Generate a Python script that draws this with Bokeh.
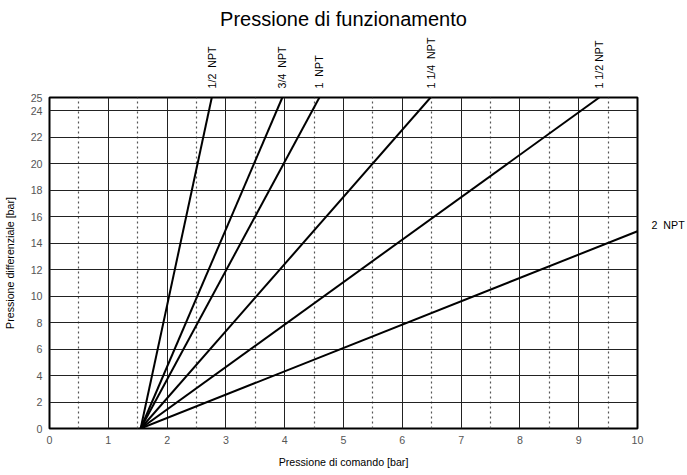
import math
from bokeh.plotting import figure
from bokeh.models import FixedTicker, LinearAxis
from bokeh.embed import file_html
from bokeh.resources import INLINE

# Data
series_names = ["1/2  NPT", "3/4  NPT", "1  NPT", "1 1/4  NPT", "1 1/2 NPT", "2  NPT"]
start_x = 1.55
start_y = 0.0
end_x = [2.76, 3.96, 4.59, 6.48, 9.35, 10.0]
end_y = [25.0, 25.0, 25.0, 25.0, 25.0, 14.9]
label_y = [25.0, 25.0, 25.0, 25.0, 25.0, 15.4]
x_ticks = [0, 1, 2, 3, 4, 5, 6, 7, 8, 9, 10]
x_minor = [0.5, 1.5, 2.5, 3.5, 4.5, 5.5, 6.5, 7.5, 8.5, 9.5]
y_ticks = [0, 2, 4, 6, 8, 10, 12, 14, 16, 18, 20, 22, 24, 25]
title_text = "Pressione di funzionamento"
x_label = "Pressione di comando [bar]"
y_label = "Pressione differenziale [bar]"

FONT = "Liberation Sans"


def keep_spaces(s):
    # SVG collapses runs of spaces; keep the double spaces visible
    return s.replace("  ", " \u00a0")


p = figure(frame_width=588, frame_height=331, x_range=(0, 10), y_range=(0, 25),
           output_backend="svg", toolbar_location=None,
           min_border_left=42, min_border_right=41, min_border_top=10, min_border_bottom=10)

p.title.text = title_text
p.title.align = "center"
p.title.text_font = FONT
p.title.text_font_size = "15pt"
p.title.text_font_style = "normal"
p.title.text_color = "black"
p.title.standoff = 10

p.outline_line_color = "black"
p.outline_line_width = 2

xt = FixedTicker(ticks=x_ticks, minor_ticks=x_minor)
yt = FixedTicker(ticks=y_ticks)
bottom_axis = p.below[0]
left_axis = p.left[0]
bottom_axis.ticker = xt
left_axis.ticker = yt
p.xgrid.ticker = xt
p.ygrid.ticker = yt

# top axis carrying the series labels
top_names = [n for n, ly in zip(series_names, label_y) if ly >= 25]
top_x = [ex for ex, ly in zip(end_x, label_y) if ly >= 25]
top_axis = LinearAxis(ticker=FixedTicker(ticks=top_x),
                      major_label_overrides={x: keep_spaces(n) for x, n in zip(top_x, top_names)},
                      major_label_orientation="vertical")
p.add_layout(top_axis, "above")

# right axis carrying the last series label
right_names = [n for n, ly in zip(series_names, label_y) if ly < 25]
right_y = [ly for ly in label_y if ly < 25]
right_axis = LinearAxis(ticker=FixedTicker(ticks=right_y),
                        major_label_overrides={y: keep_spaces(n) for y, n in zip(right_y, right_names)})
p.add_layout(right_axis, "right")

for ax in (bottom_axis, left_axis, top_axis, right_axis):
    ax.axis_line_color = None
    ax.major_tick_line_color = None
    ax.minor_tick_line_color = None
    ax.major_tick_out = 0
    ax.major_tick_in = 0
    ax.minor_tick_out = 0
    ax.minor_tick_in = 0
    ax.major_label_text_font = FONT
    ax.major_label_text_font_size = "8pt"
    ax.major_label_text_color = "#555555"
    ax.axis_label_text_font = FONT
    ax.axis_label_text_font_size = "8pt"
    ax.axis_label_text_font_style = "normal"
    ax.axis_label_text_color = "black"

top_axis.major_label_text_color = "black"
right_axis.major_label_text_color = "black"
top_axis.major_label_standoff = 9
right_axis.major_label_standoff = 14

bottom_axis.axis_label = x_label
left_axis.axis_label = y_label
bottom_axis.major_label_standoff = 7
bottom_axis.axis_label_standoff = 9
left_axis.major_label_standoff = 7
left_axis.axis_label_standoff = 12

p.xgrid.grid_line_color = "#222222"
p.xgrid.grid_line_width = 1
p.xgrid.minor_grid_line_color = "#555555"
p.xgrid.minor_grid_line_dash = "2 3"
p.xgrid.minor_grid_line_width = 1.2
p.ygrid.grid_line_color = "#222222"
p.ygrid.grid_line_width = 1

for ex, ey in zip(end_x, end_y):
    p.line([start_x, ex], [start_y, ey], line_color="black", line_width=2)

open("out.html", "w").write(file_html(p, INLINE))
